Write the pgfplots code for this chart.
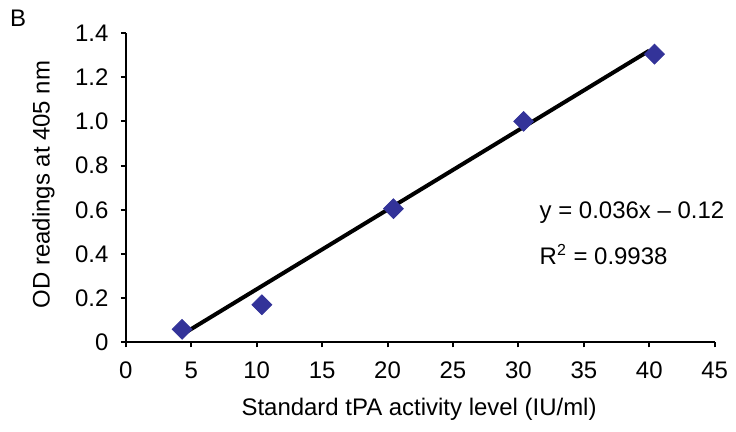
\documentclass[border=0pt]{standalone}
\usepackage{fontspec}
\setmainfont{Liberation Sans}
\usepackage{pgfplots}
\pgfplotsset{compat=1.18}
\definecolor{markblue}{HTML}{333399}
\begin{document}
\fontsize{12}{14}\selectfont
\begin{tikzpicture}
\begin{axis}[
  scale only axis,
  width=295pt, height=155pt,
  xmin=0, xmax=45, ymin=0, ymax=1.4,
  axis x line*=bottom, axis y line*=left,
  axis line style={line width=1pt,-},
  xtick={0,5,10,15,20,25,30,35,40,45},
  ytick={0,0.2,0.4,0.6,0.8,1.0,1.2,1.4},
  yticklabels={0,0.2,0.4,0.6,0.8,1.0,1.2,1.4},
  tick align=outside,
  major tick length=2.5pt,
  tick style={line width=1pt,black},
  xticklabel style={yshift=-3pt},
  yticklabel style={xshift=-2pt},
  /pgf/number format/assume math mode=true,
  clip=false,
  xlabel={Standard tPA activity level (IU/ml)},
  ylabel={OD readings at 405 nm},
  xlabel style={at={(axis description cs:0.498,-0.216)},anchor=center},
  ylabel style={at={(axis description cs:-0.14,0.51)},anchor=center},
]
\path (axis description cs:-0.2136,-0.287) rectangle (axis description cs:1.0339,1.1065);
\addplot[only marks, mark=square*, mark size=3.5pt, mark options={rotate=45, fill=markblue, draw=markblue}, color=markblue]
  coordinates {(4.3,0.059) (10.4,0.17) (20.45,0.605) (30.4,1.0) (40.4,1.304)};
\addplot[black, line width=2pt, no marks] coordinates {(4.1,0.028) (40.0,1.32)};
\node[anchor=west, inner sep=0pt] at (axis cs:31.6,0.587) {y = 0.036x \textendash{} 0.12};
\node[anchor=west, inner sep=0pt] at (axis cs:31.6,0.397) {R\textsuperscript{2} = 0.9938};
\node at (axis description cs:-0.183,1.048) {B};
\end{axis}
\end{tikzpicture}
\end{document}
